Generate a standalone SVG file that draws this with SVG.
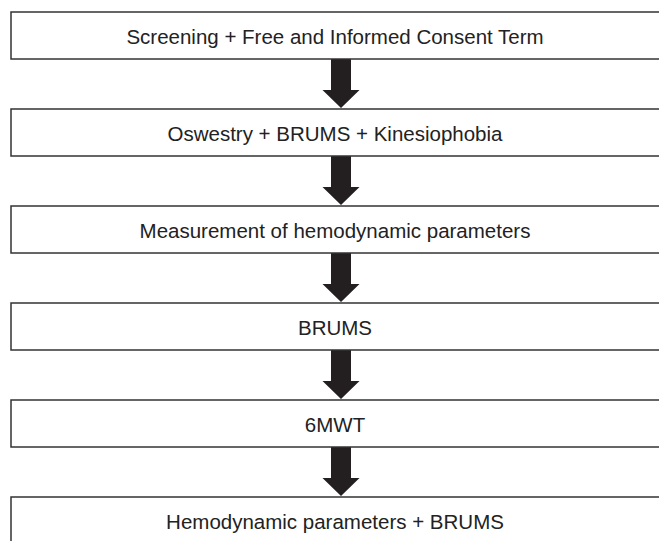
<svg xmlns="http://www.w3.org/2000/svg" width="659" height="541" viewBox="0 0 659 541">
<style>
.box{fill:#fff;stroke:#333;stroke-width:1.5}
.lbl{font-family:"Liberation Sans",Arial,sans-serif;font-size:20.5px;fill:#222;text-anchor:middle}
.arr{fill:#231f20}
</style>
<defs>
<path id="arrow" class="arr" d="M331,0 H351 V31 H359.5 L341,49 L322.5,31 H331 Z"/>
</defs>
<rect width="659" height="541" fill="#fff"/>
<g id="connectors">
<use href="#arrow" transform="translate(0,59)"/>
<use href="#arrow" transform="translate(0,156)"/>
<use href="#arrow" transform="translate(0,253)"/>
<use href="#arrow" transform="translate(0,350)"/>
<use href="#arrow" transform="translate(0,447)"/>
</g>
<g id="n1"><rect class="box" x="11" y="12" width="650" height="47"/><text class="lbl" x="335" y="44">Screening + Free and Informed Consent Term</text></g>
<g id="n2"><rect class="box" x="11" y="109" width="650" height="47"/><text class="lbl" x="335" y="141">Oswestry + BRUMS + Kinesiophobia</text></g>
<g id="n3"><rect class="box" x="11" y="206" width="650" height="47"/><text class="lbl" x="335" y="238">Measurement of hemodynamic parameters</text></g>
<g id="n4"><rect class="box" x="11" y="303" width="650" height="47"/><text class="lbl" x="335" y="335">BRUMS</text></g>
<g id="n5"><rect class="box" x="11" y="400" width="650" height="47"/><text class="lbl" x="335" y="432">6MWT</text></g>
<g id="n6"><rect class="box" x="11" y="497" width="650" height="47"/><text class="lbl" x="335" y="529">Hemodynamic parameters + BRUMS</text></g>
</svg>
